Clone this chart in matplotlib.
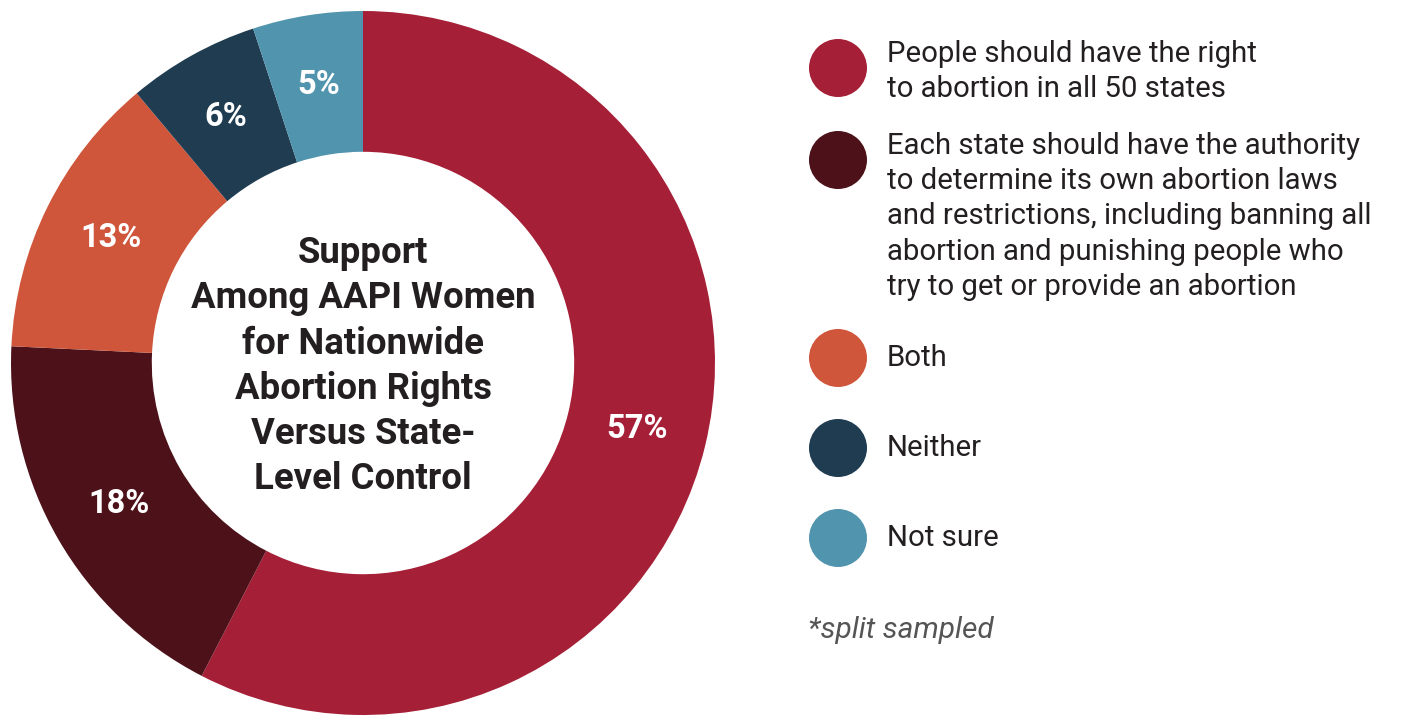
import matplotlib
matplotlib.use("Agg")
import matplotlib.pyplot as plt
from matplotlib.patches import Ellipse

categories = [
    "People should have the right\nto abortion in all 50 states",
    "Each state should have the authority\nto determine its own abortion laws\nand restrictions, including banning all\nabortion and punishing people who\ntry to get or provide an abortion",
    "Both",
    "Neither",
    "Not sure",
]
values = [57, 18, 13, 6, 5]
pct_labels = ["57%", "18%", "13%", "6%", "5%"]
colors = ["#A51F37", "#4D111A", "#CF563B", "#1F3C51", "#5194AE"]
center_title = "Support\nAmong AAPI Women\nfor Nationwide\nAbortion Rights\nVersus State-\nLevel Control"
footnote = "*split sampled"

W, H = 1404, 716
fig = plt.figure(figsize=(W / 100, H / 100), dpi=100)
fig.patch.set_facecolor("white")

FONT = "Roboto"
TEXT_COLOR = "#231F20"

def fx(x):
    return x / W

def fy(y):
    return 1 - y / H

# donut axes: center (363,363), outer radius 352 px
cx, cy, R = 363, 363, 352
ax = fig.add_axes([fx(cx - R), fy(cy + R), 2 * R / W, 2 * R / H])
wedges, texts = ax.pie(
    values,
    colors=colors,
    startangle=90,
    counterclock=False,
    radius=1.0,
    wedgeprops=dict(width=0.40, edgecolor="none"),
    labels=pct_labels,
    labeldistance=0.80,
    textprops=dict(color="white", fontsize=23.5, fontweight="bold", family=FONT),
)
for t in texts:
    t.set_ha("center")
    t.set_va("center")
ax.set_xlim(-1, 1)
ax.set_ylim(-1, 1)
ax.set_aspect("equal")
ax.axis("off")

ax.text(0, -0.009, center_title, ha="center", va="center", fontsize=26.3,
        fontweight="bold", family=FONT, color=TEXT_COLOR, linespacing=1.33)

# legend
circle_y = [68, 160, 358, 448, 538]
text_y = [71.5, 216.5, 358, 448, 538]
for i, (yc, col, lab) in enumerate(zip(circle_y, colors, categories)):
    e = Ellipse((fx(838), fy(yc)), width=58 / W, height=58 / H,
                transform=fig.transFigure, facecolor=col, edgecolor="none")
    fig.patches.append(e)
    fig.text(fx(887), fy(text_y[i]), lab, ha="left", va="center", fontsize=21.2,
             family=FONT, color=TEXT_COLOR, linespacing=1.32)

fig.text(fx(808), fy(630), footnote, ha="left", va="center", fontsize=21.5,
         family=FONT, style="italic", color="#555555")

fig.savefig("out.png", dpi=100, facecolor="white")
